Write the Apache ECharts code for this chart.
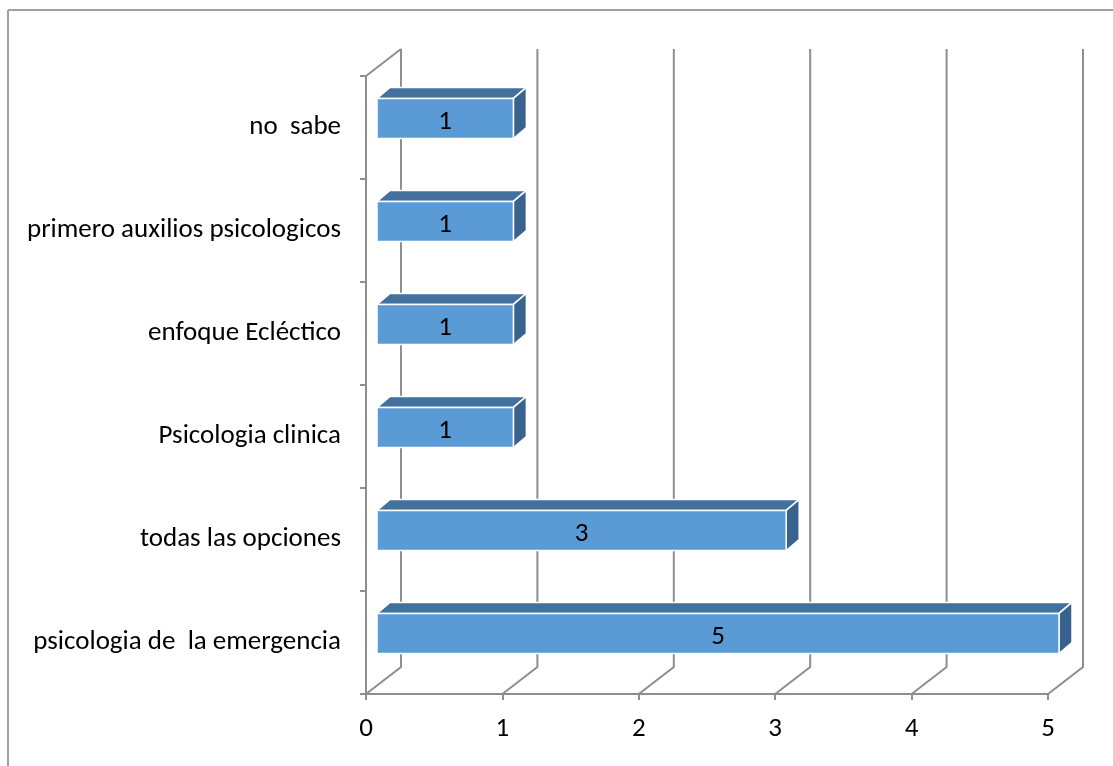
<!DOCTYPE html>
<html>
<head>
<meta charset="utf-8">
<script src="https://cdn.jsdelivr.net/npm/echarts@6/dist/echarts.min.js"></script>
<style>
  html, body { margin: 0; padding: 0; background: #fff; }
  #chart { width: 1113px; height: 766px; }
</style>
</head>
<body>
<div id="chart"></div>
<script>
// Categories listed bottom to top
const categories = [
  'psicologia de  la emergencia',
  'todas las opciones',
  'Psicologia clinica',
  'enfoque Ecléctico',
  'primero auxilios psicologicos',
  'no  sabe'
];
const values = [5, 3, 1, 1, 1, 1];
const xTicks = [0, 1, 2, 3, 4, 5];

const FONT = 'Carlito, Lato, "Open Sans", sans-serif';
const FONT_SIZE = 27;
const LINE = '#8E8E8E';
// depth of the back wall relative to the front plane
const WALL_DX = 35, WALL_DY = -27;
// bar placement in depth
const BAR_OX = 11, BAR_OY = -9, BAR_DX = 13, BAR_DY = -11;

const chart = echarts.init(document.getElementById('chart'));

function wallItem(params, api) {
  const cs = params.coordSys;
  const x = api.coord([api.value(0), 0])[0];
  const bottom = cs.y + cs.height;
  const top = cs.y;
  const children = [{
    type: 'polyline',
    shape: { points: [[x, bottom], [x + WALL_DX, bottom + WALL_DY], [x + WALL_DX, top + WALL_DY]] },
    style: { stroke: LINE, lineWidth: 2, fill: null }
  }];
  if (params.dataIndex === 0) {
    children.push({
      type: 'line',
      shape: { x1: x, y1: top, x2: x + WALL_DX, y2: top + WALL_DY },
      style: { stroke: LINE, lineWidth: 2 }
    });
  }
  return { type: 'group', children };
}

function barItem(params, api) {
  const v = api.value(0);
  const idx = api.value(1);
  const start = api.coord([0, idx]);
  const end = api.coord([v, idx]);
  const h = api.size([0, 1])[1] * 0.39;
  const x0 = start[0] + BAR_OX, x1 = end[0] + BAR_OX;
  const yc = start[1] + BAR_OY;
  const y0 = yc - h / 2, y1 = yc + h / 2;
  const edge = { stroke: '#ffffff', lineWidth: 1.5 };
  return {
    type: 'group',
    children: [
      {
        type: 'polygon',
        shape: { points: [[x0, y0], [x0 + BAR_DX, y0 + BAR_DY], [x1 + BAR_DX, y0 + BAR_DY], [x1, y0]] },
        style: Object.assign({ fill: '#42719E' }, edge)
      },
      {
        type: 'polygon',
        shape: { points: [[x1, y0], [x1 + BAR_DX, y0 + BAR_DY], [x1 + BAR_DX, y1 + BAR_DY], [x1, y1]] },
        style: Object.assign({ fill: '#39638E' }, edge)
      },
      {
        type: 'rect',
        shape: { x: x0, y: y0, width: x1 - x0, height: y1 - y0 },
        style: Object.assign({ fill: '#5B9BD5' }, edge)
      },
      {
        type: 'text',
        x: (x0 + x1) / 2,
        y: yc + 4,
        style: {
          text: String(v),
          fill: '#000',
          font: FONT_SIZE + 'px ' + FONT,
          align: 'center',
          verticalAlign: 'middle'
        }
      }
    ]
  };
}

chart.setOption({
  animation: false,
  backgroundColor: '#fff',
  grid: { left: 366, right: 65, top: 76, bottom: 72 },
  xAxis: {
    type: 'value',
    min: 0,
    max: 5,
    interval: 1,
    axisLine: { show: true, lineStyle: { color: LINE, width: 2 } },
    axisTick: { show: true, length: 6, lineStyle: { color: LINE, width: 2 } },
    splitLine: { show: false },
    axisLabel: { color: '#000', fontSize: FONT_SIZE, fontFamily: FONT, margin: 22 }
  },
  yAxis: {
    type: 'category',
    data: categories,
    axisLine: { show: true, lineStyle: { color: LINE, width: 2 } },
    axisTick: { show: true, length: 6, lineStyle: { color: LINE, width: 2 } },
    splitLine: { show: false },
    axisLabel: { color: '#000', fontSize: FONT_SIZE, fontFamily: FONT, margin: 25, padding: [7, 0, 0, 0] }
  },
  graphic: [
    { type: 'line', shape: { x1: 8, y1: 10, x2: 1113, y2: 10 }, style: { stroke: '#A0A0A0', lineWidth: 2 } },
    { type: 'line', shape: { x1: 8, y1: 10, x2: 8, y2: 766 }, style: { stroke: '#A0A0A0', lineWidth: 2 } }
  ],
  series: [
    {
      type: 'custom',
      z: 1,
      silent: true,
      renderItem: wallItem,
      encode: { x: 0 },
      data: xTicks.map(t => [t])
    },
    {
      type: 'custom',
      z: 3,
      silent: true,
      renderItem: barItem,
      encode: { x: 0, y: 1 },
      data: values.map((v, i) => [v, i])
    }
  ]
});
</script>
</body>
</html>
